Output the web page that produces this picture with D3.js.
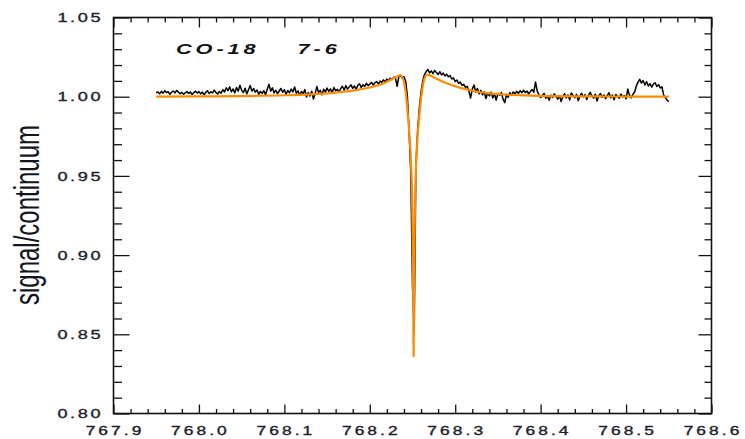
<!DOCTYPE html>
<html>
<head>
<meta charset="utf-8">
<script src="https://cdn.jsdelivr.net/npm/d3@7"></script>
<style>
  body { margin: 0; background: #fff; }
  svg { display: block; }
</style>
</head>
<body>
<svg id="chart" width="745" height="439"></svg>
<script>
// Axis ticks and their labels
const xTickValues = [767.9, 768.0, 768.1, 768.2, 768.3, 768.4, 768.5, 768.6];
const xTickLabels = ["767.9", "768.0", "768.1", "768.2", "768.3", "768.4", "768.5", "768.6"];
const yTickValues = [0.80, 0.85, 0.90, 0.95, 1.00, 1.05];
const yTickLabels = ["0.80", "0.85", "0.90", "0.95", "1.00", "1.05"];

// Observed spectrum: regular wavelength grid (GHz) and normalised signal
const specStart = 767.95;
const specStep = 0.002;
const signal = [
  1.0025, 1.0030, 1.0018, 1.0034, 1.0022, 1.0038, 1.0026, 1.0031, 1.0015, 1.0028,
  1.0036, 1.0024, 1.0040, 1.0029, 1.0019, 1.0027, 1.0016, 1.0024, 1.0033, 1.0021,
  1.0030, 1.0013, 1.0026, 1.0035, 1.0023, 1.0032, 1.0018, 1.0029, 1.0012, 1.0027,
  1.0037, 1.0020, 1.0031, 1.0024, 1.0042, 1.0026, 1.0017, 1.0033, 1.0022, 1.0045,
  1.0030,
  1.0056, 1.0038, 1.0062, 1.0031, 1.0049, 1.0024, 1.0058, 1.0035, 1.0072, 1.0040,
  1.0027, 1.0053, 1.0018, 1.0044, 1.0070, 1.0036, 1.0051, 1.0029, 1.0042, 1.0015,
  1.0033, 1.0021, 1.0038, 1.0012, 1.0047, 1.0078, 1.0035, 1.0056, 1.0024, 1.0041,
  1.0019, 1.0036, 1.0052, 1.0028, 1.0045, 1.0016, 1.0039, 1.0025,
  1.0048, 1.0030, 1.0061, 1.0022, 1.0037, 1.0009, 1.0033, 1.0018, 1.0045, 0.9998,
  1.0026, 1.0004, 1.0035, 0.9985, 1.0019, 1.0064, 1.0027, 1.0040, 1.0012, 1.0047,
  1.0029, 1.0055, 1.0033, 1.0050, 1.0024, 1.0058, 1.0038, 1.0046, 1.0030,
  1.0052, 1.0066, 1.0041, 1.0070, 1.0048, 1.0062, 1.0075, 1.0053, 1.0068, 1.0046,
  1.0072, 1.0081, 1.0058, 1.0076, 1.0064, 1.0085, 1.0070, 1.0079, 1.0091, 1.0074,
  1.0088, 1.0096, 1.0080, 1.0099, 1.0090, 1.0106, 1.0094, 1.0112, 1.0101, 1.0117,
  1.0108,
  1.0124, 1.0118, 1.0066, 1.0127, 1.0132, 1.0120, 1.0126, 1.0098,
  1.0005, 0.9780, 0.9520, 0.8800, 0.8520, 0.9560, 0.9790, 0.9930, 1.0030, 1.0100, 1.0140,
  1.0158, 1.0172, 1.0150, 1.0163, 1.0145, 1.0166, 1.0152, 1.0140, 1.0158, 1.0137,
  1.0149, 1.0131, 1.0142,
  1.0125, 1.0134, 1.0112, 1.0118, 1.0096, 1.0105, 1.0084, 1.0092, 1.0071, 1.0078,
  1.0058, 1.0066, 1.0035, 0.9992, 1.0048, 1.0074, 1.0030, 1.0052, 1.0018, 1.0040,
  1.0012, 1.0031, 0.9988, 1.0024, 1.0005, 1.0029, 0.9992, 1.0018, 0.9978, 1.0022,
  1.0009, 1.0027, 0.9985, 0.9962, 1.0014, 0.9996, 1.0026, 1.0008, 1.0030,
  1.0019, 1.0034, 1.0022, 1.0038, 1.0025, 1.0041, 1.0027, 1.0036, 1.0018, 1.0033,
  1.0045, 1.0028, 1.0092, 1.0035,
  1.0012, 0.9995, 1.0008, 1.0021, 0.9990, 1.0004, 0.9978, 1.0010, 0.9996, 1.0018,
  1.0002, 0.9985, 1.0007, 0.9969, 1.0001, 1.0019, 0.9992, 1.0011, 0.9980, 1.0024,
  1.0006, 0.9994, 1.0015, 0.9975, 1.0003, 1.0022, 0.9998, 1.0013, 0.9983, 1.0009,
  1.0028, 1.0004, 0.9991, 1.0016, 0.9972, 1.0005, 1.0020, 0.9996, 1.0012, 0.9988,
  1.0007, 1.0025, 0.9993, 1.0010, 0.9981, 1.0014, 1.0001, 0.9990, 1.0017, 0.9997,
  1.0008, 0.9986,
  1.0048, 1.0010, 0.9992, 1.0015, 1.0030,
  1.0068, 1.0092, 1.0110, 1.0086, 1.0102, 1.0074, 1.0095, 1.0068, 1.0082, 1.0060,
  1.0079, 1.0088, 1.0064, 1.0076, 1.0055, 1.0062,
  1.0010, 0.9995, 0.9978, 0.9968
];

// Model profile
const fitWave = [
  767.950, 768.000, 768.050, 768.100, 768.130, 768.160, 768.180, 768.200, 768.215, 768.225,
  768.232, 768.236, 768.2385, 768.2405, 768.2425, 768.2444, 768.2465, 768.2483, 768.2498, 768.2505,
  768.2510, 768.2513, 768.2516, 768.2521, 768.2528, 768.2543, 768.2560, 768.2582, 768.2605, 768.2630,
  768.2650, 768.2670, 768.2700, 768.2750, 768.2800, 768.2900, 768.3000, 768.3100, 768.3200, 768.3300,
  768.3400, 768.3600, 768.3800, 768.4000, 768.4500, 768.5000, 768.5500
];
const fitValue = [
  1.0000, 1.0002, 1.0004, 1.0009, 1.0015, 1.0026, 1.0038, 1.0058, 1.0082, 1.0108,
  1.0128, 1.0136, 1.0118, 1.0080, 1.0010, 0.9895, 0.9750, 0.9580, 0.9270, 0.8950,
  0.8600, 0.8360, 0.8600, 0.8950, 0.9270, 0.9580, 0.9750, 0.9895, 1.0010, 1.0095,
  1.0128, 1.0140, 1.0135, 1.0122, 1.0108, 1.0085, 1.0066, 1.0050, 1.0038, 1.0028,
  1.0021, 1.0013, 1.0008, 1.0005, 1.0002, 1.0001, 1.0000
];

const lineLabels = ["CO-18", "7-6"];
const yTitle = "signal/continuum";

// Plot frame
const frameL = 113.5, frameR = 711.5, frameT = 17.5, frameB = 413.5;
const textColor = "#1e1e2c";
const stretch = 1.45;

const svg = d3.select("#chart");
const x = d3.scaleLinear().domain([767.9, 768.6]).range([frameL, frameR]);
const y = d3.scaleLinear().domain([0.80, 1.05]).range([frameB, frameT]);

const xMinor = d3.range(0, 36).map(i => +(767.9 + i * 0.02).toFixed(2))
  .filter(v => Math.abs(Math.round(v * 10) / 10 - v) > 1e-6);
const yMinor = d3.range(0, 26).map(i => +(0.80 + i * 0.01).toFixed(2))
  .filter(v => Math.abs(Math.round(v * 20) / 20 - v) > 1e-6);

function tickAxis(axis, transform) {
  const g = svg.append("g").attr("transform", transform).call(axis);
  g.select(".domain").remove();
  g.selectAll("line").attr("stroke", "#111").attr("stroke-width", 1.3);
  g.selectAll("text").remove();
  return g;
}

// inward ticks on all four sides
tickAxis(d3.axisBottom(x).tickValues(xTickValues).tickSize(-9), `translate(0,${frameB})`);
tickAxis(d3.axisBottom(x).tickValues(xMinor).tickSize(-4.5), `translate(0,${frameB})`);
tickAxis(d3.axisTop(x).tickValues(xTickValues).tickSize(-10), `translate(0,${frameT})`);
tickAxis(d3.axisTop(x).tickValues(xMinor).tickSize(-5), `translate(0,${frameT})`);
tickAxis(d3.axisLeft(y).tickValues(yTickValues).tickSize(-16), `translate(${frameL},0)`);
tickAxis(d3.axisLeft(y).tickValues(yMinor).tickSize(-8.5), `translate(${frameL},0)`);
tickAxis(d3.axisRight(y).tickValues(yTickValues).tickSize(-13), `translate(${frameR},0)`);
tickAxis(d3.axisRight(y).tickValues(yMinor).tickSize(-7), `translate(${frameR},0)`);

// frame
svg.append("rect")
  .attr("x", frameL).attr("y", frameT)
  .attr("width", frameR - frameL).attr("height", frameB - frameT)
  .attr("fill", "none").attr("stroke", "#111").attr("stroke-width", 1.6);

// tick labels
const lsX = 2.1;
svg.append("g").selectAll("text").data(xTickValues).join("text")
  .attr("transform", d => `translate(${x(d)},434.5) scale(${stretch},1)`)
  .attr("text-anchor", "middle")
  .attr("dx", lsX / 2)
  .style("letter-spacing", lsX + "px")
  .attr("font-family", "Liberation Sans, Arial, sans-serif")
  .attr("font-size", 12)
  .attr("fill", textColor)
  .attr("stroke", textColor)
  .attr("stroke-width", 0.35)
  .text((d, i) => xTickLabels[i]);

const lsY = 1.8;
svg.append("g").selectAll("text").data(yTickValues).join("text")
  .attr("transform", d => `translate(100.5,${y(d) + 4.6}) scale(${stretch},1)`)
  .attr("text-anchor", "end")
  .attr("dx", lsY)
  .style("letter-spacing", lsY + "px")
  .attr("font-family", "Liberation Sans, Arial, sans-serif")
  .attr("font-size", 12.5)
  .attr("fill", textColor)
  .attr("stroke", textColor)
  .attr("stroke-width", 0.35)
  .text((d, i) => yTickLabels[i]);

// y-axis title
svg.append("text")
  .attr("transform", `translate(38.5,215) scale(${stretch},1) rotate(-90)`)
  .attr("text-anchor", "middle")
  .attr("font-family", "Liberation Sans, Arial, sans-serif")
  .attr("font-size", 24)
  .attr("fill", "#15151f")
  .text(yTitle);

// transition label
const labelX = [176, 297.5];
lineLabels.forEach((t, i) => {
  svg.append("text")
    .attr("transform", `translate(${labelX[i]},54) scale(${stretch},1)`)
    .attr("font-family", "Liberation Sans, Arial, sans-serif")
    .attr("font-size", 15)
    .attr("font-weight", "bold")
    .attr("font-style", "italic")
    .style("letter-spacing", "2.7px")
    .attr("fill", "#111")
    .text(t);
});

// observed spectrum
const specData = signal.map((v, i) => [specStart + i * specStep, v]);
svg.append("path")
  .datum(specData)
  .attr("fill", "none")
  .attr("stroke", "#000")
  .attr("stroke-width", 1.5)
  .attr("stroke-linejoin", "round")
  .attr("d", d3.line().x(d => x(d[0])).y(d => y(d[1])));

// model profile
const fitData = fitWave.map((w, i) => [w, fitValue[i]]);
svg.append("path")
  .datum(fitData)
  .attr("fill", "none")
  .attr("stroke", "#ff8a00")
  .attr("stroke-width", 2.2)
  .attr("stroke-linejoin", "round")
  .attr("d", d3.line().curve(d3.curveMonotoneX).x(d => x(d[0])).y(d => y(d[1])));
</script>
</body>
</html>
